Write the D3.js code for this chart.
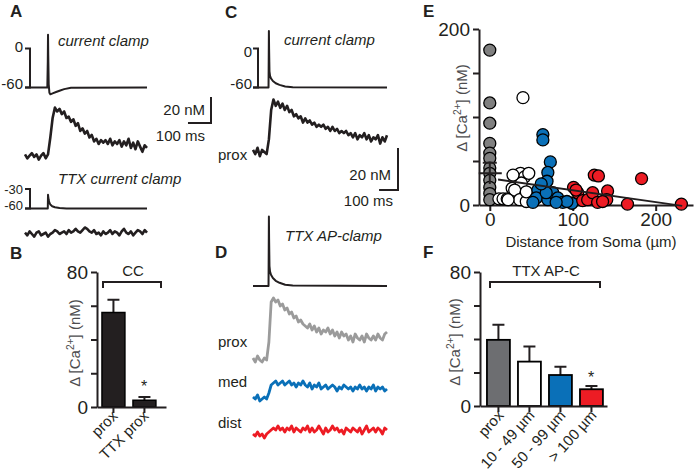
<!DOCTYPE html>
<html><head><meta charset="utf-8">
<script src="https://cdn.jsdelivr.net/npm/d3@7"></script>
<style>body{margin:0;background:#fff} svg{display:block}</style>
</head><body><svg id="chart" width="700" height="476"></svg>
<script>
// ---------------- DATA ----------------
// Panel A: current clamp voltage (ms, mV)
const aVoltT = [0, 97, 99, 100, 101, 103, 106, 110, 120, 135, 150, 170, 200, 530];
const aVoltV = [-60, -60, -20, 21, -10, -55, -68, -70.5, -69, -67, -65, -62.5, -60.5, -60];
// Panel A: calcium transient, one sample every 10 ms (nM)
const aCaStep = 10;
const aCa = [2,-1,1,3,0,2,-2,1,3,-1,
  2,15,30,38,35,37,33,35,30,31,27,29,24,26,20,22,18,20,15,17,
  12,14,10,13,11,13,10,14,9,12,10,13,8,12,9,14,7,11,6,12,8,4,9,7];
// Panel A: TTX current clamp voltage and calcium
const aTtxT = [0, 99, 100, 101, 103, 106, 110, 118, 130, 150, 180, 530];
const aTtxV = [-60, -60, -39, -42, -47, -51, -54, -56.5, -58, -59.3, -60, -60];
const aTtxCa = [1,-1,2,0,-2,1,2,-1,0,1,-2,0,1,3,2,0,1,2,0,3,1,2,4,2,1,3,5,4,2,1,
  3,0,1,-1,2,0,1,3,0,2,1,-1,2,4,1,0,2,-1,1,3,2,0,3,1];
// Panel B
const bCats = ["prox", "TTX prox"];
const bMeans = [56, 4];
const bSems = [7.5, 2];
// Panel C: current clamp voltage and proximal calcium (sample every 12 ms)
const cVoltT = [0, 82, 83, 84, 85, 87, 90, 95, 105, 120, 140, 170, 210, 708];
const cVoltV = [-60, -60, -20, 27, 0, -35, -42, -46, -50, -53.5, -56, -58.5, -59.5, -60];
const caStep = 12;
const cCa = [1,-1,2,-2,1,0,-1, 6,20,25,22,24,21,23,20,22,19,20,17,18,16,17,14,16,14,15,
  13,14,12,13,12,13,11,12,10,12,10,11,9,10,9,10,8,9,7,9,6,8,7,9,6,8,5,7,6,8,4,7,5,8];
// Panel D: TTX AP-clamp voltage and calcium at prox / med / dist
const dVoltT = [0, 82, 83, 84, 85, 87, 90, 95, 105, 120, 140, 170, 210, 708];
const dVoltV = [-60, -60, -20, 27, 0, -35, -42, -46, -50, -53.5, -56, -58.5, -59.5, -60];
const dProx = [0,-2,1,-1,-2,0,-1, 8,28,30,28,29,26,27,24,25,22,23,20,21,18,19,17,16,15,17,
  14,16,13,15,12,14,13,15,12,14,11,13,10,13,11,12,9,11,8,12,10,9,11,8,12,10,9,11,9,12,10,9,12,13];
const dMed = [0,-1,1,-2,-1,0,-1, 2,6,7,8,6,7,8,6,7,8,6,7,5,7,6,8,6,5,7,
  4,6,5,7,4,5,6,4,5,6,5,3,5,4,6,5,4,5,3,5,4,6,4,5,3,5,4,6,3,5,4,5,3,4];
const dDist = [0,-1,1,-1,0,-2,0, 1,2,3,2,4,2,3,1,3, 2,4,1,3,2,1,3,2,4,1,
  3,1,2,4,2,0,3,1,2,4, 2,3,1,2,0,3,2,1,3,2, 1,3,0,2,4,1,2,3,1,3, 2,0,3,2];
// Panel E: distance from soma (µm) vs Δ[Ca2+] (nM)
const proxX = [0,0,0,0,0,0,0,0,0,0,0,0];
const proxY = [176,116,93,70,59,53,42,36,28,20,13,6];
const nearX = [40,11,16,21,27,32,37,42,38,30,36,44,44,28,47,22];
const nearY = [122,7,7,7,19,32,36,32,25,17,6,4,15,34,36,6];
const midX = [64,64,73,70,69,58,56,52,70,76,82,88,99,68,93,62,80];
const midY = [80,74,49,37,27,17,8,3,6,14,8,3,2,14,4,24,3];
const farX = [101,106,112,118,126,131,124,142,130,141,166,183,231,104,136];
const farY = [20,14,5,6,34,33,14,16,3,6,1,30,1,17,4];
const proxMean = 36, proxSem = 12;
const regX = [10, 232];
const regY = [29, -1];
// Panel F
const fCats = ["prox", "10 - 49 µm", "50 - 99 µm", "> 100 µm"];
const fMeans = [39.5, 26.5, 18.5, 10];
const fSems = [9, 9, 5, 2];
const fColors = ["#6d6e71", "#ffffff", "#0a70b8", "#ed1c24"];
const groupColors = ["#808080", "#ffffff", "#0a70b8", "#ed1c24"];

// ---------------- DRAWING ----------------
const FONT = '"Liberation Sans", Arial, Helvetica, sans-serif';
const INK = "#231f20";
const svg = d3.select("#chart");

function txt(x, y, s, o = {}) {
  return svg.append("text").attr("x", x).attr("y", y)
    .attr("font-family", FONT).attr("font-size", o.size || 15)
    .attr("font-style", o.italic ? "italic" : null)
    .attr("font-weight", o.bold ? "bold" : null)
    .attr("text-anchor", o.anchor || "start")
    .attr("fill", o.fill || INK).text(s);
}
function trace(xs, ys, sx, sy, color, w) {
  svg.append("path").datum(xs.map((x, i) => [x, ys[i]]))
    .attr("d", d3.line().x(d => sx(d[0])).y(d => sy(d[1])))
    .attr("fill", "none").attr("stroke", color).attr("stroke-width", w)
    .attr("stroke-linejoin", "round");
}
function sampled(vals, step, sx, sy, color, w) {
  trace(vals.map((v, i) => i * step), vals, sx, sy, color, w);
}
function seg(d, w = 2) {
  svg.append("path").attr("d", d).attr("fill", "none").attr("stroke", INK).attr("stroke-width", w);
}
function caLabel(x, y, size) {
  const t = svg.append("text").attr("transform", `translate(${x},${y}) rotate(-90)`)
    .attr("text-anchor", "middle").attr("font-family", FONT).attr("font-size", size).attr("fill", "#4d4d4f");
  t.append("tspan").text("Δ [Ca");
  t.append("tspan").attr("dy", -6).attr("font-size", size * 0.68).text("2+");
  t.append("tspan").attr("dy", 6).text("] (nM)");
}
function styleAxis(g, fs) {
  g.attr("font-family", FONT).attr("font-size", fs);
  g.select(".domain").attr("stroke", INK).attr("stroke-width", 2);
  g.selectAll(".tick line").attr("stroke", INK).attr("stroke-width", 2);
  g.selectAll(".tick text").attr("fill", INK);
}

// Panel letters
[["A", 10, 17], ["B", 10, 259], ["C", 225, 18], ["D", 215, 258], ["E", 423, 17], ["F", 423, 258]]
  .forEach(([l, x, y]) => txt(x, y, l, { bold: true, size: 17 }));

// ----- Panel A -----
const tA = d3.scaleLinear().domain([0, 530]).range([25, 147]);
const vA = d3.scaleLinear().domain([-60, 0]).range([87.5, 48.5]);
trace(aVoltT, aVoltV, tA, vA, INK, 2);
seg(`M25,${vA(0)}H30V${vA(-60)}H25`);
txt(23, 52, "0", { anchor: "end" });
txt(23, 89, "-60", { anchor: "end" });
txt(58, 46, "current clamp", { italic: true });
const caA = d3.scaleLinear().domain([0, 20]).range([157, 131]);
sampled(aCa, aCaStep, tA, caA, INK, 2.6);
// scale bar A
const sbAx = 211, sbAy = 123;
seg(`M${sbAx - (tA(100) - tA(0))},${sbAy}H${sbAx}V${sbAy - (caA(0) - caA(20))}`);
txt(205, 115, "20 nM", { anchor: "end" });
txt(205, 141, "100 ms", { anchor: "end" });
txt(58, 184, "TTX current clamp", { italic: true });
const vAt = d3.scaleLinear().domain([-60, -30]).range([208.5, 189]);
trace(aTtxT, aTtxV, tA, vAt, INK, 2);
seg(`M25,${vAt(-30)}H30V${vAt(-60)}H25`);
txt(23, 194, "-30", { anchor: "end", size: 13 });
txt(23, 210, "-60", { anchor: "end", size: 13 });
const caAt = d3.scaleLinear().domain([0, 20]).range([234, 208]);
sampled(aTtxCa, aCaStep, tA, caAt, INK, 2.6);

// ----- Panel B -----
const yB = d3.scaleLinear().domain([0, 80]).range([407, 272]);
const xB = d3.scaleBand().domain(bCats).range([97, 166]).paddingInner(0.26).paddingOuter(0.243).align(0.33);
bCats.forEach((c, i) => {
  const cx = xB(c) + xB.bandwidth() / 2;
  seg(`M${cx},${yB(bMeans[i])}V${yB(bMeans[i] + bSems[i])}M${cx - 6},${yB(bMeans[i] + bSems[i])}H${cx + 6}`);
  svg.append("rect").attr("x", xB(c)).attr("width", xB.bandwidth())
    .attr("y", yB(bMeans[i])).attr("height", yB(0) - yB(bMeans[i]))
    .attr("fill", INK).attr("stroke", "#000").attr("stroke-width", 1.5);
});
const gBy = svg.append("g").attr("transform", "translate(97,0)")
  .call(d3.axisLeft(yB).tickValues([0, 20, 40, 60, 80]).tickSize(6).tickPadding(3).tickSizeOuter(0)
    .tickFormat(d => (d === 0 || d === 80) ? d : ""));
styleAxis(gBy, 19);
const gBx = svg.append("g").attr("transform", "translate(0,407)")
  .call(d3.axisBottom(xB).tickSize(6).tickSizeOuter(0).tickFormat(""));
styleAxis(gBx, 15);
bCats.forEach(c => {
  const cx = xB(c) + xB.bandwidth() / 2;
  svg.append("text").attr("transform", `translate(${cx + 5},${417}) rotate(-45)`)
    .attr("text-anchor", "end").attr("font-family", FONT).attr("font-size", 15).attr("fill", INK).text(c);
});
caLabel(80, 343, 15);
seg("M103,288V282H161V288");
txt(133, 276, "CC", { anchor: "middle" });
txt(144, 392, "*", { anchor: "middle", size: 16 });

// ----- Panel C -----
const tC = d3.scaleLinear().domain([0, 708]).range([253, 387]);
const vC = d3.scaleLinear().domain([-60, 0]).range([87.5, 48.5]);
trace(cVoltT, cVoltV, tC, vC, INK, 2);
seg(`M253,${vC(0)}H258V${vC(-60)}H253`);
txt(252, 57, "0", { anchor: "end" });
txt(252, 89, "-60", { anchor: "end" });
txt(284, 45, "current clamp", { italic: true });
const caC = d3.scaleLinear().domain([0, 20]).range([152, 110]);
sampled(cCa, caStep, tC, caC, INK, 2.6);
txt(218, 160, "prox");
const sbCx = 398, sbCy = 190;
seg(`M${sbCx - (tC(100) - tC(0))},${sbCy}H${sbCx}V${sbCy - (caC(0) - caC(20))}`);
txt(391, 180, "20 nM", { anchor: "end" });
txt(393, 206, "100 ms", { anchor: "end" });

// ----- Panel D -----
const vD = d3.scaleLinear().domain([-60, 0]).range([286, 238]);
trace(dVoltT, dVoltV, tC, vD, INK, 2);
txt(285, 241, "TTX AP-clamp", { italic: true });
const caDp = d3.scaleLinear().domain([0, 10]).range([358, 338]);
const caDm = d3.scaleLinear().domain([0, 10]).range([397, 377]);
const caDd = d3.scaleLinear().domain([0, 10]).range([434, 414]);
sampled(dProx, caStep, tC, caDp, "#9b9b9b", 2.8);
sampled(dMed, caStep, tC, caDm, "#0a70b8", 2.8);
sampled(dDist, caStep, tC, caDd, "#ed1c24", 2.8);
txt(218, 347, "prox");
txt(218, 387, "med");
txt(218, 428, "dist");

// ----- Panel E -----
const xE = d3.scaleLinear().domain([-13, 245]).range([479, 693]);
const yE = d3.scaleLinear().domain([0, 200]).range([205, 29]);
const gEy = svg.append("g").attr("transform", "translate(479,0)")
  .call(d3.axisLeft(yE).tickValues([0, 50, 100, 150, 200]).tickSize(6).tickPadding(3).tickSizeOuter(0)
    .tickFormat(d => (d === 0 || d === 200) ? d : ""));
styleAxis(gEy, 19);
const gEx = svg.append("g").attr("transform", "translate(0,205)")
  .call(d3.axisBottom(xE).tickValues([0, 100, 200]).tickSize(6).tickPadding(2).tickSizeOuter(0));
styleAxis(gEx, 19);
[[proxX, proxY], [nearX, nearY], [midX, midY], [farX, farY]].forEach(([xs, ys], gi) => {
  svg.append("g").selectAll("circle").data(xs.map((x, i) => [x, ys[i]])).join("circle")
    .attr("cx", d => xE(d[0])).attr("cy", d => yE(d[1])).attr("r", 6)
    .attr("fill", groupColors[gi]).attr("stroke", "#000").attr("stroke-width", 1.3);
});
trace(regX, regY, xE, yE, INK, 2);
const mx = xE(0);
seg(`M${mx},${yE(proxMean - proxSem)}V${yE(proxMean + proxSem)}M${mx - 7},${yE(proxMean + proxSem)}H${mx + 7}M${mx - 11},${yE(proxMean)}H${mx + 12}`);
caLabel(467, 108, 15);
txt(591, 247, "Distance from Soma (µm)", { anchor: "middle" });

// ----- Panel F -----
const yF = d3.scaleLinear().domain([0, 80]).range([406, 272]);
const xF = d3.scaleBand().domain(fCats).range([480, 607]).paddingInner(0.26).paddingOuter(0.178).align(0.63);
fCats.forEach((c, i) => {
  const cx = xF(c) + xF.bandwidth() / 2;
  seg(`M${cx},${yF(fMeans[i])}V${yF(fMeans[i] + fSems[i])}M${cx - 6},${yF(fMeans[i] + fSems[i])}H${cx + 6}`);
  svg.append("rect").attr("x", xF(c)).attr("width", xF.bandwidth())
    .attr("y", yF(fMeans[i])).attr("height", yF(0) - yF(fMeans[i]))
    .attr("fill", fColors[i]).attr("stroke", "#000").attr("stroke-width", 1.8);
});
const gFy = svg.append("g").attr("transform", "translate(480,0)")
  .call(d3.axisLeft(yF).tickValues([0, 20, 40, 60, 80]).tickSize(6).tickPadding(3).tickSizeOuter(0)
    .tickFormat(d => (d === 0 || d === 80) ? d : ""));
styleAxis(gFy, 19);
const gFx = svg.append("g").attr("transform", "translate(0,406)")
  .call(d3.axisBottom(xF).tickSize(6).tickSizeOuter(0).tickFormat(""));
styleAxis(gFx, 15);
fCats.forEach(c => {
  const cx = xF(c) + xF.bandwidth() / 2;
  svg.append("text").attr("transform", `translate(${cx + 6},${416}) rotate(-48)`)
    .attr("text-anchor", "end").attr("font-family", FONT).attr("font-size", 15).attr("fill", INK).text(c);
});
caLabel(460, 342, 15);
seg("M490,288V282H600V288");
txt(546, 276, "TTX AP-C", { anchor: "middle" });
txt(591, 383, "*", { anchor: "middle", size: 16 });
</script>
</body></html>
